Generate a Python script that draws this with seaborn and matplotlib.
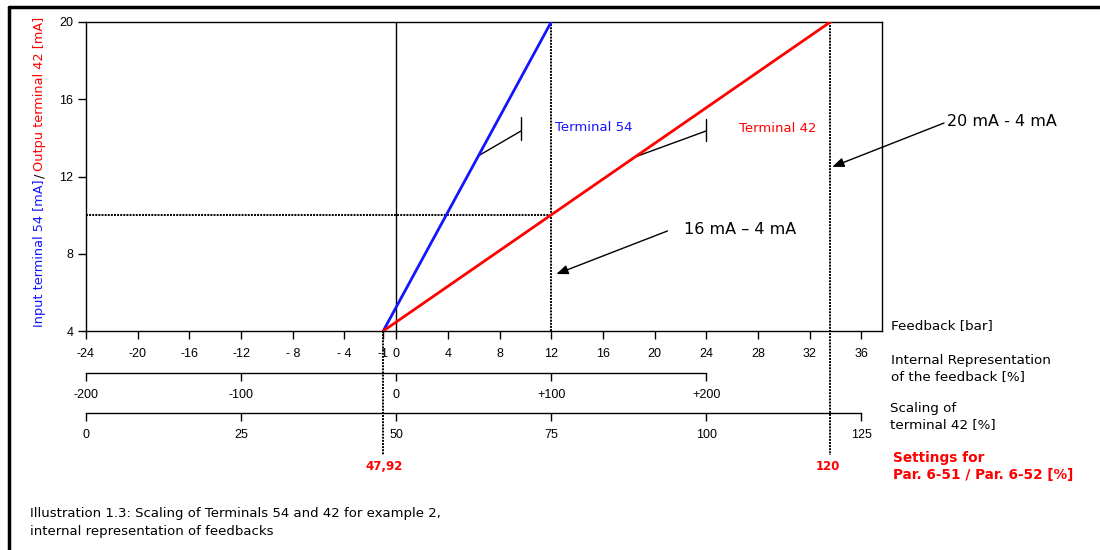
import matplotlib
matplotlib.use("Agg")
import matplotlib.pyplot as plt
import seaborn as sns
import pandas as pd
from matplotlib.lines import Line2D

# ---------------- data ----------------
terminal54_x = [-1, 12]          # feedback [bar]
terminal54_y = [4, 20]           # mA
terminal42_x = [-1, 33.6]
terminal42_y = [4, 20]
setpoint_mA = 10                 # horizontal dotted level
setpoint_bar = 12
feedback_ticks = [-24, -20, -16, -12, -8, -4, -1, 0, 4, 8, 12, 16, 20, 24, 28, 32, 36]
feedback_labels = ["-24", "-20", "-16", "-12", "- 8", "- 4", "-1", "0", "4", "8", "12",
                   "16", "20", "24", "28", "32", "36"]
ma_ticks = [4, 8, 12, 16, 20]
internal_ticks = [-200, -100, 0, 100, 200]
internal_labels = ["-200", "-100", "0", "+100", "+200"]
scaling_ticks = [0, 25, 50, 75, 100, 125]
scaling_labels = ["0", "25", "50", "75", "100", "125"]
settings_low = "47,92"
settings_high = "120"

# ---------------- figure ----------------
sns.set_style("ticks")
plt.rcParams["font.family"] = ["Liberation Sans", "DejaVu Sans"]
plt.rcParams["text.color"] = "black"
plt.rcParams["xtick.color"] = "black"
plt.rcParams["ytick.color"] = "black"

W, H = 1100, 550
fig = plt.figure(figsize=(11, 5.5), dpi=100)

def fx(px):
    return px / W

def fy(py):
    return 1 - py / H

ax_l, ax_r, ax_t, ax_b = 86, 882, 22, 331
ax = fig.add_axes([fx(ax_l), fy(ax_b), (ax_r - ax_l) / W, (ax_b - ax_t) / H])
xmin, xmax = -24, 37.6
ax.set_xlim(xmin, xmax)
ax.set_ylim(4, 20)

df = pd.DataFrame({
    "x": terminal54_x + terminal42_x,
    "y": terminal54_y + terminal42_y,
    "s": ["Terminal 54"] * 2 + ["Terminal 42"] * 2,
})
sns.lineplot(data=df, x="x", y="y", hue="s", palette={"Terminal 54": "#1414ff", "Terminal 42": "#ff0000"},
             lw=2, ax=ax, legend=False, sort=False, zorder=5)
ax.set_xlabel("")
ax.set_ylabel("")

for s in ax.spines.values():
    s.set_visible(True)
    s.set_color("black")
    s.set_linewidth(1.0)

ax.set_xticks(feedback_ticks)
ax.set_xticklabels(feedback_labels)
ax.set_yticks(ma_ticks)
ax.tick_params(axis="both", direction="out", length=6, width=1, color="black",
               labelsize=9, labelcolor="black", pad=6, bottom=True, left=True,
               top=False, right=False)
ax.tick_params(axis="y", pad=3)

dot = (0, (1, 0.6))
# reference lines
ax.plot([0, 0], [4, 20], color="black", lw=1, zorder=3)
ax.plot([xmin, setpoint_bar], [setpoint_mA, setpoint_mA], color="black", lw=1.4, ls=dot, zorder=3)
ax.plot([setpoint_bar, setpoint_bar], [4, 20], color="black", lw=1.4, ls=dot, zorder=3)
ylow = 4 + (ax_b - 455) / ((ax_b - ax_t) / 16)
ax.plot([terminal42_x[1], terminal42_x[1]], [20, ylow], color="black", lw=1.4, ls=dot,
        clip_on=False, zorder=3)
ax.plot([terminal42_x[0], terminal42_x[0]], [4, ylow], color="black", lw=1.4, ls=dot,
        clip_on=False, zorder=3)

# leader lines for the series labels
ax.plot([6.34, 9.67], [13.06, 14.36], color="black", lw=1, zorder=4)
ax.plot([9.67, 9.67], [13.89, 15.08], color="black", lw=1, zorder=4)
ax.plot([18.48, 24.0], [13.01, 14.36], color="black", lw=1, zorder=4)
ax.plot([24.0, 24.0], [13.85, 15.0], color="black", lw=1, zorder=4)
ax.text(12.3, 14.56, "Terminal 54", color="#1414ff", fontsize=9.5, family="DejaVu Sans",
        va="center", ha="left")
ax.text(26.55, 14.5, "Terminal 42", color="#ff0000", fontsize=9.5, family="DejaVu Sans",
        va="center", ha="left")

# arrows
aprops = dict(arrowstyle="-|>,head_length=0.7,head_width=0.28", color="black", lw=1,
              shrinkA=0, shrinkB=0)
ax.annotate("", xy=(12.4, 6.95), xytext=(21.0, 9.18), arrowprops=aprops)
ax.text(22.3, 9.25, "16 mA \u2013 4 mA", fontsize=11.5, family="DejaVu Sans", va="center", ha="left")
ax.annotate("", xy=(33.75, 12.5), xytext=(42.4, 14.77), arrowprops=aprops, annotation_clip=False)
ax.text(42.6, 14.85, "20 mA - 4 mA", fontsize=11.5, family="DejaVu Sans", va="center", ha="left",
        clip_on=False)

# ---------------- secondary scales ----------------
def scale_axis(py, lim_func, ticks, labels, bounds):
    a = fig.add_axes([fx(ax_l), fy(py), (ax_r - ax_l) / W, 1e-4])
    a.set_xlim(lim_func(xmin), lim_func(xmax))
    a.set_yticks([])
    for k in ["top", "left", "right"]:
        a.spines[k].set_visible(False)
    a.spines["bottom"].set_color("black")
    a.spines["bottom"].set_linewidth(1.0)
    a.spines["bottom"].set_bounds(*bounds)
    a.set_xticks(ticks)
    a.set_xticklabels(labels)
    a.tick_params(axis="x", direction="out", length=6, width=1, color="black",
                  labelsize=9, labelcolor="black", pad=6, bottom=True, top=False)
    a.patch.set_alpha(0)
    return a

scale_axis(372.7, lambda b: b * 100 / 12, internal_ticks, internal_labels, (-200, 200))
scale_axis(412.7, lambda b: 50 + b * 25 / 12, scaling_ticks, scaling_labels, (0, 125))

# ---------------- right-hand labels ----------------
rfont = dict(family="DejaVu Sans", fontsize=9.7, color="black", ha="left", linespacing=1.3)
fig.text(fx(891), fy(326), "Feedback [bar]", va="center", **rfont)
fig.text(fx(891), fy(354), "Internal Representation\nof the feedback [%]", va="top", **rfont)
fig.text(fx(890), fy(402), "Scaling of\nterminal 42 [%]", va="top", **rfont)
fig.text(fx(893), fy(451), "Settings for\nPar. 6-51 / Par. 6-52 [%]", va="top", family="DejaVu Sans",
         fontsize=9.8, fontweight="bold", color="#ff0000", ha="left", linespacing=1.3)

fig.text(fx(384), fy(466), settings_low, fontsize=8.5, fontweight="bold", color="#ff0000",
         ha="center", va="center", family="DejaVu Sans")
fig.text(fx(828), fy(466), settings_high, fontsize=8.5, fontweight="bold", color="#ff0000",
         ha="center", va="center", family="DejaVu Sans")

# y-axis label in two colours
yl = dict(rotation=90, fontsize=9.3, family="DejaVu Sans", ha="center")
fig.text(fx(40), fy(327), "Input terminal 54 [mA]", color="#1414ff", va="bottom", **yl)
fig.text(fx(40), fy(176), "/", color="black", va="center", **yl)
fig.text(fx(40), fy(171), "Outpu terminal 42 [mA]", color="#ff0000", va="bottom", **yl)

# caption
fig.text(fx(30), fy(513), "Illustration 1.3: Scaling of Terminals 54 and 42 for example 2,",
         fontsize=9.5, family="DejaVu Sans", va="center", ha="left", color="black")
fig.text(fx(30), fy(532), "internal representation of feedbacks",
         fontsize=9.5, family="DejaVu Sans", va="center", ha="left", color="black")

# page frame (top and left rules)
fig.add_artist(Line2D([fx(9), 1], [fy(7), fy(7)], color="black", lw=2.5, transform=fig.transFigure))
fig.add_artist(Line2D([fx(9), fx(9)], [fy(7), 0], color="black", lw=2.5, transform=fig.transFigure))

fig.savefig("out.png", dpi=100)
